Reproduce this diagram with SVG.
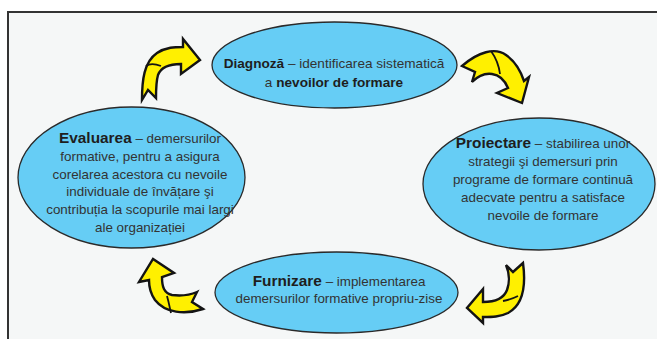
<svg xmlns="http://www.w3.org/2000/svg" width="657" height="339" viewBox="0 0 657 339">
<style>
.node ellipse{fill:#66cdf5;stroke:#2a2a2a;stroke-width:1.3}
.t{font-family:"Liberation Sans",Arial,sans-serif;font-size:13.4px;fill:#333;text-anchor:middle}
.b{font-weight:bold;fill:#1e1e1e}
.h{font-size:15.4px}
.arrow{fill:#fff000;stroke:#141414;stroke-width:2.4;stroke-linejoin:miter}
.fold{fill:none;stroke:#141414;stroke-width:1.8}
</style>
<rect x="0" y="0" width="657" height="339" fill="#ffffff"/>
<rect x="8" y="12" width="670" height="350" fill="#f5f7f7" stroke="#333" stroke-width="2"/>
<g id="connectors">
<path class="arrow" d="M142,100 C142,80 144,62 157,53 C166,47 175,47 183,47 L183,39 L200,60 L181,74 L181,64 C170,64 161,67 158,75 C156,82 156,90 156,98 L148,90 Z"/>
<path class="fold" d="M146,66 C150,63 156,64 161,66"/>
<path class="arrow" d="M462,66 C478,52 495,47 506,55 C516,62 521,72 524,81 L529,77 L522,103 L497,93 L508,88 C505,81 500,75 492,74 C485,73 478,76 472,82 L475,72 Z"/>
<path class="fold" d="M491,51 C496,58 499,66 500,74"/>
<path class="arrow" d="M523,263 C526,285 523,305 508,313 C500,317 492,317 483,317 L483,323 L467,308 L483,289 L483,302 C495,302 504,298 507,290 C510,282 509,272 506,265 L513,272 Z"/>
<path class="fold" d="M503,301 C509,300 514,298 518,296"/>
<path class="arrow" d="M203,309 C185,315 165,313 155,300 C150,293 149,287 149,280 L139,282 L153,259 L174,273 L162,277 C162,287 164,293 172,295 C180,296 190,295 197,292 L192,302 Z"/>
<path class="fold" d="M167,296 C169,303 170,309 171,313"/>
</g>
<g id="node-diagnoza" class="node">
<ellipse cx="334.5" cy="65" rx="122.5" ry="43"/>
<text class="t" x="334" y="68" style="font-size:13.6px"><tspan class="b">Diagnoză</tspan> – identificarea sistematică</text>
<text class="t" x="334" y="87" style="font-size:13.6px">a <tspan class="b">nevoilor de formare</tspan></text>
</g>
<g id="node-proiectare" class="node">
<ellipse cx="539" cy="184" rx="116" ry="66"/>
<text class="t" x="543" y="148"><tspan class="b h">Proiectare</tspan> – stabilirea unor</text>
<text class="t" x="543" y="166">strategii şi demersuri prin</text>
<text class="t" x="543" y="184">programe de formare continuă</text>
<text class="t" x="543" y="202">adecvate pentru a satisface</text>
<text class="t" x="543" y="220">nevoile de formare</text>
</g>
<g id="node-furnizare" class="node">
<ellipse cx="336.5" cy="292.5" rx="121.5" ry="40.5"/>
<text class="t" x="339" y="286"><tspan class="b h">Furnizare</tspan> – implementarea</text>
<text class="t" x="339" y="303">demersurilor formative propriu-zise</text>
</g>
<g id="node-evaluarea" class="node">
<ellipse cx="131.5" cy="177.5" rx="113.5" ry="70.5"/>
<text class="t" x="140" y="143"><tspan class="b h">Evaluarea</tspan> – demersurilor</text>
<text class="t" x="140" y="161">formative, pentru a asigura</text>
<text class="t" x="140" y="179">corelarea acestora cu nevoile</text>
<text class="t" x="140" y="196">individuale de învățare şi</text>
<text class="t" x="140" y="214">contribuția la scopurile mai largi</text>
<text class="t" x="140" y="232">ale organizației</text>
</g>
</svg>
